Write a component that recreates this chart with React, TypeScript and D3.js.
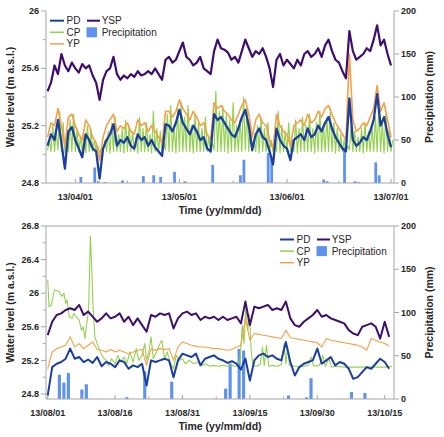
import React from "react";
import * as d3 from "d3";

const W = 444;
const H = 437;
const DAY = 864e5;
const FONT = "'Liberation Sans', Arial, Helvetica, sans-serif";

// ---------- colours ----------
const C_PD = "#1b3f9e";
const C_YSP = "#3e0e6e";
const C_CP = "#95d151";
const C_YP = "#f5a048";
const C_RAIN = "#5d93ef";
const C_AXIS = "#a6a6a6";
const C_TEXT = "#262626";

// ---------- TOP PANEL DATA (daily from 2013-03-24) ----------
const topStart = "2013-03-24";
const topYSP = [
  25.44, 25.5, 25.62, 25.56, 25.7, 25.62, 25.58, 25.64, 25.6, 25.57,
  25.63, 25.6, 25.62, 25.55, 25.5, 25.38, 25.52, 25.58, 25.6, 25.68,
  25.56, 25.52, 25.55, 25.53, 25.56, 25.54, 25.58, 25.55, 25.56, 25.58,
  25.56, 25.6, 25.56, 25.52, 25.66, 25.68, 25.64, 25.66, 25.72, 25.78,
  25.68, 25.66, 25.62, 25.64, 25.68, 25.6, 25.58, 25.56, 25.72, 25.8,
  25.74, 25.73, 25.71, 25.66, 25.68, 25.64, 25.72, 25.8, 25.74, 25.68,
  25.72, 25.7, 25.74, 25.68, 25.6, 25.47, 25.66, 25.7, 25.62, 25.66,
  25.63, 25.6, 25.66, 25.62, 25.7, 25.72, 25.68, 25.7, 25.74, 25.68,
  25.76, 25.8, 25.72, 25.66, 25.64, 25.58, 25.53, 25.86, 25.72, 25.66,
  25.68, 25.7, 25.74, 25.72, 25.8, 25.9, 25.76, 25.8, 25.7, 25.62,
];
const topPD = [
  25.06, 25.14, 25.1, 25.24, 25.08, 24.9, 25.16, 25.19, 25.1, 25.04,
  24.98, 25.14, 25.1, 25.04, 25.02, 24.83, 25.04, 25.1, 25.14, 25.21,
  25.06, 25.1, 25.08, 25.12, 25.06, 25.04, 25.14, 25.1, 25.12, 25.06,
  25.1, 25.05, 25.02, 24.99, 25.21, 25.2, 25.16, 25.22, 25.31, 25.22,
  25.18, 25.14, 25.2, 25.16, 25.1, 25.12, 25.04, 25.02, 25.28, 25.24,
  25.26, 25.22, 25.18, 25.14, 25.12, 25.18, 25.26, 25.31, 25.2, 25.03,
  25.14, 25.18, 25.12, 25.1, 25.02, 24.93, 25.18, 25.1, 25.06, 25.04,
  24.96, 25.1, 25.12, 25.14, 25.1, 25.18, 25.12, 25.14, 25.2, 25.16,
  25.22, 25.26, 25.18, 25.12, 25.08, 25.04, 25.02, 25.39, 25.1, 25.06,
  25.08, 25.12, 25.1, 25.16, 25.24, 25.42, 25.2, 25.26, 25.14, 25.05,
];
const topYP = [
  25.12, 25.22, 25.2, 25.32, 25.2, 25.06, 25.26, 25.28, 25.2, 25.14,
  25.1, 25.24, 25.2, 25.12, 25.08, 24.96, 25.12, 25.2, 25.24, 25.28,
  25.16, 25.2, 25.18, 25.22, 25.16, 25.14, 25.24, 25.2, 25.22, 25.16,
  25.2, 25.16, 25.12, 25.08, 25.3, 25.3, 25.26, 25.3, 25.38, 25.32,
  25.28, 25.24, 25.3, 25.26, 25.2, 25.22, 25.14, 25.1, 25.36, 25.32,
  25.34, 25.3, 25.28, 25.24, 25.22, 25.28, 25.34, 25.38, 25.28, 25.12,
  25.24, 25.28, 25.22, 25.2, 25.1, 25.04, 25.28, 25.2, 25.16, 25.14,
  25.06, 25.2, 25.22, 25.24, 25.2, 25.28, 25.22, 25.24, 25.3, 25.26,
  25.32, 25.34, 25.28, 25.22, 25.18, 25.14, 25.1, 25.7, 25.24, 25.16,
  25.18, 25.22, 25.2, 25.26, 25.32, 25.48, 25.3, 25.36, 25.24, 25.12,
];
// CP: daily low (morning) and daily peak (half a day later)
const topCPLow = [
  25.03, 25.02, 25.02, 25.03, 25.02, 25.01, 25.02, 25.02, 25.02, 25.02,
  25.02, 25.01, 25.02, 25.02, 25.02, 25.01, 25.02, 25.02, 25.01, 25.02,
  25.02, 25.02, 25.01, 25.02, 25.02, 25.02, 25.01, 25.02, 25.02, 25.02,
  25.01, 25.02, 25.02, 25.02, 25.03, 25.02, 25.02, 25.01, 25.02, 25.02,
  25.02, 25.02, 25.01, 25.02, 25.02, 25.02, 25.02, 25.01, 25.03, 25.02,
  25.02, 25.02, 25.01, 25.02, 25.02, 25.02, 25.02, 25.03, 25.02, 25.02,
  25.02, 25.01, 25.02, 25.02, 25.02, 25.02, 25.02, 25.01, 25.02, 25.02,
  25.02, 25.02, 25.01, 25.02, 25.02, 25.02, 25.02, 25.01, 25.02, 25.02,
  25.02, 25.02, 25.02, 25.01, 25.02, 25.02, 25.02, 25.03, 25.02, 25.02,
  25.02, 25.01, 25.02, 25.02, 25.02, 25.02, 25.02, 25.01, 25.02, 25.02,
];
const topCPPeak = [
  25.1, 25.2, 25.16, 25.3, 25.22, 25.12, 25.24, 25.28, 25.18, 25.12,
  25.14, 25.2, 25.18, 25.1, 25.06, 25.04, 25.1, 25.16, 25.22, 25.26,
  25.14, 25.18, 25.24, 25.2, 25.16, 25.12, 25.26, 25.18, 25.22, 25.14,
  25.3, 25.18, 25.16, 25.08, 25.28, 25.34, 25.2, 25.32, 25.36, 25.26,
  25.34, 25.2, 25.28, 25.22, 25.18, 25.26, 25.12, 25.08, 25.44, 25.3,
  25.34, 25.28, 25.24, 25.36, 25.2, 25.24, 25.4, 25.32, 25.22, 25.1,
  25.2, 25.26, 25.18, 25.22, 25.1, 25.06, 25.3, 25.2, 25.16, 25.22,
  25.1, 25.24, 25.18, 25.26, 25.2, 25.28, 25.18, 25.22, 25.3, 25.2,
  25.26, 25.32, 25.22, 25.18, 25.14, 25.1, 25.06, 25.2, 25.16, 25.12,
  25.18, 25.22, 25.16, 25.2, 25.26, 25.34, 25.22, 25.28, 25.18, 25.1,
];
const topRainDates = [
  "2013-04-02", "2013-04-06", "2013-04-07", "2013-04-09", "2013-04-14",
  "2013-04-20", "2013-04-23", "2013-04-25", "2013-04-29", "2013-05-02",
  "2013-05-10", "2013-05-18", "2013-05-19", "2013-05-26", "2013-05-27",
  "2013-06-11", "2013-06-12", "2013-06-17", "2013-06-20", "2013-06-21",
  "2013-06-26", "2013-06-27",
];
const topRainMM = [7, 18, 2, 1, 3, 8, 9, 7, 13, 2, 21, 9, 27, 35, 28, 4, 2, 42, 2, 1, 24, 9];
const topTickDates = ["2013-04-01", "2013-05-01", "2013-06-01", "2013-07-01"];
const topYTicks = [24.8, 25.2, 25.6, 26];
const topYLabels = ["24.8", "25.2", "25.6", "26"];

// ---------- BOTTOM PANEL DATA (daily from 2013-08-01) ----------
const botStart = "2013-08-01";
const botYSP = [
  25.5, 25.66, 25.74, 25.76, 25.8, 25.82, 25.8, 25.86, 25.74, 25.78,
  25.72, 25.66, 25.7, 25.76, 25.7, 25.72, 25.76, 25.66, 25.72, 25.62,
  25.7, 25.62, 25.54, 25.74, 25.72, 25.76, 25.74, 25.76, 25.58, 25.7,
  25.76, 25.78, 25.74, 25.76, 25.68, 25.72, 25.7, 25.72, 25.68, 25.72,
  25.68, 25.7, 25.72, 25.64, 25.9, 25.62, 25.84, 25.82, 25.84, 25.86,
  25.8, 25.82, 25.8, 25.9, 25.7, 25.62, 25.6, 25.66, 25.7, 25.74,
  25.8, 25.72, 25.74, 25.7, 25.68, 25.66, 25.64, 25.56, 25.52, 25.5,
  25.6, 25.62, 25.64, 25.6, 25.46, 25.66, 25.48,
];
const botPD = [
  24.78, 25.12, 25.16, 25.18, 25.22, 25.34, 25.22, 25.24, 25.18, 25.21,
  25.17, 25.24, 25.13, 25.18, 25.16, 25.12, 25.2, 25.18, 25.1, 25.14,
  25.12, 25.16, 24.9, 25.2, 25.18, 25.2, 25.22, 25.2, 25.0, 25.2,
  25.28, 25.26, 25.24, 25.28, 25.14, 25.22, 25.24, 25.26, 25.22, 25.2,
  25.17, 25.19, 25.16, 25.09, 25.22, 24.96, 25.2, 25.26, 25.28, 25.24,
  25.26, 25.22, 25.2, 25.42, 25.18, 25.02, 25.12, 25.16, 25.18, 25.2,
  25.34, 25.16, 25.2, 25.24, 25.14, 25.18, 25.16, 25.1, 24.98, 25.0,
  25.06, 25.12, 25.1, 25.16, 25.22, 25.18, 25.1,
];
const botYP = [
  25.1, 25.3, 25.34, 25.36, 25.38, 25.48, 25.36, 25.4, 25.34, 25.38,
  25.42, 25.33, 25.32, 25.3, 25.33, 25.3, 25.32, 25.3, 25.28, 25.3,
  25.32, 25.33, 25.14, 25.34, 25.32, 25.34, 25.33, 25.34, 25.2, 25.36,
  25.42, 25.4, 25.38, 25.37, 25.36, 25.36, 25.35, 25.34, 25.34, 25.33,
  25.32, 25.33, 25.36, 25.38, 25.7, 25.44, 25.52, 25.51, 25.5, 25.49,
  25.48, 25.47, 25.46, 25.56, 25.47, 25.46, 25.45, 25.44, 25.43, 25.42,
  25.41, 25.36, 25.46, 25.44, 25.43, 25.42, 25.41, 25.4, 25.39, 25.38,
  25.36, 25.32, 25.46, 25.44, 25.42, 25.4, 25.37,
];
// CP read as (day after 08/01, value) points
const botCPDays = [
  0, 0.3, 0.8, 1.5, 2.5, 3.2, 3.6, 4.0, 4.3, 4.8, 5.4, 5.8, 6.3, 7.0, 7.5, 7.9, 8.3, 8.7,
  9.1, 9.5, 9.8, 10.1, 10.5, 11.0, 11.7, 12.3, 13.0, 13.6, 14.2, 15.0, 15.6, 16.2, 17.0,
  17.6, 18.3, 19.0, 19.7, 20.3, 21.0, 21.6, 22.0, 22.5, 23.0, 23.5, 24.2, 24.8, 25.4,
  26.0, 26.6, 27.2, 28.0, 28.6, 29.3, 30.0, 30.6, 31.5, 32.5, 33.5, 34.3, 35.2, 36.0,
  37.0, 38.0, 39.0, 40.0, 41.0, 42.0, 42.8, 43.3, 43.7, 44.1, 44.5, 44.9, 45.3, 45.7,
  46.5, 47.3, 47.8, 48.2, 48.7, 49.2, 50.0, 51.0, 52.0, 52.6, 53.0, 53.4, 53.8, 55.0,
  56.0, 57.0, 58.0, 58.6, 59.2, 60.5, 61.2, 61.8, 62.6, 63.2, 64.0, 66.0, 68.0, 70.0,
  72.0, 74.0, 76.0, 76.7,
];
const botCPValues = [
  26.16, 25.84, 25.86, 26.04, 26.02, 25.96, 26.0, 25.88, 25.92, 25.72, 25.7, 25.76, 25.72, 25.68, 25.56, 25.6, 25.46, 25.64,
  25.8, 26.68, 26.3, 25.84, 25.48, 25.4, 25.3, 25.24, 25.2, 25.14, 25.22, 25.16, 25.26, 25.18, 25.24,
  25.16, 25.3, 25.18, 25.34, 25.2, 25.26, 25.4, 25.2, 25.3, 25.48, 25.22, 25.3, 25.38, 25.44,
  25.22, 25.3, 25.18, 25.1, 25.26, 25.2, 25.22, 25.16, 25.2, 25.16, 25.18, 25.14, 25.16, 25.13,
  25.14, 25.13, 25.14, 25.13, 25.14, 25.13, 25.2, 25.62, 25.4, 25.86, 25.56, 25.74, 25.3, 25.14,
  25.13, 25.15, 25.36, 25.14, 25.38, 25.13, 25.14, 25.13, 25.15, 25.4, 25.16, 25.36, 25.14, 25.13,
  25.12, 25.13, 25.14, 25.24, 25.13, 25.14, 25.26, 25.13, 25.22, 25.12, 25.13, 25.12, 25.12, 25.12,
  25.12, 25.12, 25.12, 25.13,
];
const botRainDates = [
  "2013-08-03", "2013-08-04", "2013-08-05", "2013-08-08", "2013-08-09", "2013-08-18",
  "2013-08-22", "2013-08-28", "2013-09-09", "2013-09-10", "2013-09-12", "2013-09-13",
  "2013-09-23", "2013-09-27", "2013-09-28", "2013-10-07", "2013-10-10",
];
const botRainMM = [28, 19, 30, 11, 17, 2, 32, 20, 12, 41, 58, 56, 4, 2, 24, 8, 7];
const botTickDates = ["2013-08-01", "2013-08-16", "2013-08-31", "2013-09-15", "2013-09-30", "2013-10-15"];
const botYTicks = [24.8, 25.2, 25.6, 26, 26.4, 26.8];
const botYLabels = ["24.8", "25.2", "25.6", "26", "26.4", "26.8"];

const rainTicks = [0, 50, 100, 150, 200];

const parse = d3.timeParse("%Y-%m-%d");
const fmt = d3.timeFormat("%y/%m/%d");

type Pt = [Date, number];

function daily(start: string, values: number[]): Pt[] {
  const s = parse(start)!;
  return values.map((v, i) => [d3.timeDay.offset(s, i), v] as Pt);
}

interface PanelCfg {
  left: number;
  right: number;
  top: number;
  bottom: number;
  xDomain: [Date, Date];
  yDomain: [number, number];
  yTicks: number[];
  yLabels: string[];
  tickDates: string[];
  ysp: Pt[];
  pd: Pt[];
  yp: Pt[];
  cp: Pt[];
  rainDates: string[];
  rainMM: number[];
  barDays: number;
  legendX: number;
  legendY: number;
  frameTop: boolean;
  wPD: number;
  wYSP: number;
  wCP: number;
  wYP: number;
}

function Panel({ c }: { c: PanelCfg }) {
  const x = d3.scaleTime().domain(c.xDomain).range([c.left, c.right]);
  const y = d3.scaleLinear().domain(c.yDomain).range([c.bottom, c.top]);
  const yR = d3.scaleLinear().domain([0, 200]).range([c.bottom, c.top]);
  const line = d3
    .line<Pt>()
    .x((d) => x(d[0]))
    .y((d) => y(d[1]));

  const majors = c.tickDates.map((s) => parse(s)!);
  const minors: Date[] = [];
  for (let i = 0; i < majors.length - 1; i++) {
    minors.push(new Date((majors[i].getTime() + majors[i + 1].getTime()) / 2));
  }
  const yMinor: number[] = [];
  for (let i = 0; i < c.yTicks.length - 1; i++) yMinor.push((c.yTicks[i] + c.yTicks[i + 1]) / 2);

  const lx = c.legendX;
  const ly = c.legendY;
  const rowH = 11.6;

  return (
    <g>
      {/* precipitation bars */}
      {c.rainDates.map((s, i) => {
        const center = parse(s)!.getTime() + 0.6 * DAY;
        const x0 = x(new Date(center - (c.barDays / 2) * DAY));
        const x1 = x(new Date(center + (c.barDays / 2) * DAY));
        return (
          <rect
            key={"r" + i}
            x={x0}
            y={yR(c.rainMM[i])}
            width={x1 - x0}
            height={yR(0) - yR(c.rainMM[i])}
            fill={C_RAIN}
          />
        );
      })}
      {/* lines */}
      <path d={line(c.cp)!} fill="none" stroke={C_CP} strokeWidth={c.wCP} strokeLinejoin="round" />
      <path d={line(c.yp)!} fill="none" stroke={C_YP} strokeWidth={c.wYP} strokeLinejoin="round" />
      <path d={line(c.pd)!} fill="none" stroke={C_PD} strokeWidth={c.wPD} strokeLinejoin="round" />
      <path d={line(c.ysp)!} fill="none" stroke={C_YSP} strokeWidth={c.wYSP} strokeLinejoin="round" />

      {/* axes */}
      <g stroke={C_AXIS} strokeWidth={1} fill="none">
        <line x1={c.left} y1={c.top} x2={c.left} y2={c.bottom} />
        <line x1={c.right} y1={c.top} x2={c.right} y2={c.bottom} />
        <line x1={c.left} y1={c.bottom} x2={c.right} y2={c.bottom} />
        {c.frameTop && <line x1={c.left} y1={c.top} x2={c.right} y2={c.top} />}
        {c.yTicks.map((v, i) => (
          <line key={"ly" + i} x1={c.left - 5} x2={c.left} y1={y(v)} y2={y(v)} />
        ))}
        {yMinor.map((v, i) => (
          <line key={"lm" + i} x1={c.left - 3} x2={c.left} y1={y(v)} y2={y(v)} />
        ))}
        {rainTicks.map((v, i) => (
          <line key={"ry" + i} x1={c.right} x2={c.right + 5} y1={yR(v)} y2={yR(v)} />
        ))}
        {majors.map((d, i) => (
          <line key={"xt" + i} x1={x(d)} x2={x(d)} y1={c.bottom} y2={c.bottom - 4} />
        ))}
        {minors.map((d, i) => (
          <line key={"xm" + i} x1={x(d)} x2={x(d)} y1={c.bottom} y2={c.bottom - 2.5} />
        ))}
      </g>

      {/* tick labels */}
      <g fontFamily={FONT} fontSize={9} fontWeight="bold" fill={C_TEXT}>
        {c.yTicks.map((v, i) => (
          <text key={"tl" + i} x={c.left - 7} y={y(v)} dy="0.35em" textAnchor="end">
            {c.yLabels[i]}
          </text>
        ))}
        {rainTicks.map((v, i) => (
          <text key={"tr" + i} x={c.right + 7} y={yR(v)} dy="0.35em" textAnchor="start">
            {v}
          </text>
        ))}
        {majors.map((d, i) => (
          <text key={"tx" + i} x={x(d)} y={c.bottom + 16.5} textAnchor="middle">
            {fmt(d)}
          </text>
        ))}
      </g>

      {/* axis titles */}
      <g fontFamily={FONT} fontSize={10.5} fontWeight="bold" fill={C_TEXT}>
        <text x={(c.left + c.right) / 2} y={c.bottom + 30.5} textAnchor="middle">
          Time (yy/mm/dd)
        </text>
        <text
          transform={`translate(13.5,${(c.top + c.bottom) / 2}) rotate(-90)`}
          textAnchor="middle"
        >
          Water level (m a.s.l.)
        </text>
        <text
          transform={`translate(433,${(c.top + c.bottom) / 2}) rotate(-90)`}
          textAnchor="middle"
        >
          Precipitation (mm)
        </text>
      </g>

      {/* legend */}
      <g fontFamily={FONT} fontSize={10} fill={C_TEXT}>
        <line x1={lx} x2={lx + 14} y1={ly} y2={ly} stroke={C_PD} strokeWidth={2} />
        <text x={lx + 16.5} y={ly} dy="0.35em">PD</text>
        <line x1={lx + 37} x2={lx + 50} y1={ly} y2={ly} stroke={C_YSP} strokeWidth={2} />
        <text x={lx + 51.7} y={ly} dy="0.35em">YSP</text>
        <line x1={lx} x2={lx + 14} y1={ly + rowH} y2={ly + rowH} stroke={C_CP} strokeWidth={1.5} />
        <text x={lx + 16.5} y={ly + rowH} dy="0.35em">CP</text>
        <rect x={lx + 36.5} y={ly + rowH - 5} width={10.5} height={10} fill={C_RAIN} />
        <text x={lx + 51.7} y={ly + rowH} dy="0.35em">Precipitation</text>
        <line x1={lx} x2={lx + 14} y1={ly + 2 * rowH} y2={ly + 2 * rowH} stroke={C_YP} strokeWidth={1.5} />
        <text x={lx + 16.5} y={ly + 2 * rowH} dy="0.35em">YP</text>
      </g>
    </g>
  );
}

export default function App() {
  const tApr = parse("2013-04-01")!.getTime();
  const tAug = parse("2013-08-01")!.getTime();

  const topCPStart = parse(topStart)!;
  const topCP: Pt[] = topCPLow.flatMap((lo, i) => {
    const t = d3.timeDay.offset(topCPStart, i);
    return [
      [t, lo] as Pt,
      [d3.timeHour.offset(t, 12), topCPPeak[i]] as Pt,
    ];
  });
  const botCP: Pt[] = botCPDays.map((dd, i) => [new Date(tAug + dd * DAY), botCPValues[i]] as Pt);

  const top: PanelCfg = {
    left: 46,
    right: 394,
    top: 11,
    bottom: 183,
    xDomain: [new Date(tApr - 8.45 * DAY), new Date(tApr + 91.86 * DAY)],
    yDomain: [24.8, 26],
    yTicks: topYTicks,
    yLabels: topYLabels,
    tickDates: topTickDates,
    ysp: daily(topStart, topYSP),
    pd: daily(topStart, topPD),
    yp: daily(topStart, topYP),
    cp: topCP,
    rainDates: topRainDates,
    rainMM: topRainMM,
    barDays: 0.8,
    legendX: 50,
    legendY: 20.7,
    frameTop: false,
    wPD: 2.3,
    wYSP: 2.2,
    wCP: 1.2,
    wYP: 1.6,
  };
  const bottom: PanelCfg = {
    left: 46,
    right: 394,
    top: 226,
    bottom: 399,
    xDomain: [new Date(tAug - 0.38 * DAY), new Date(tAug + 77.07 * DAY)],
    yDomain: [24.74, 26.8],
    yTicks: botYTicks,
    yLabels: botYLabels,
    tickDates: botTickDates,
    ysp: daily(botStart, botYSP),
    pd: daily(botStart, botPD),
    yp: daily(botStart, botYP),
    cp: botCP,
    rainDates: botRainDates,
    rainMM: botRainMM,
    barDays: 0.7,
    legendX: 280,
    legendY: 239.5,
    frameTop: true,
    wPD: 2,
    wYSP: 2,
    wCP: 1.1,
    wYP: 1.1,
  };

  return (
    <svg
      width={W}
      height={H}
      viewBox={`0 0 ${W} ${H}`}
      style={{ position: "absolute", left: 0, top: 0, background: "#fff" }}
    >
      <rect x={0} y={0} width={W} height={H} fill="#fff" />
      <Panel c={top} />
      <Panel c={bottom} />
    </svg>
  );
}
